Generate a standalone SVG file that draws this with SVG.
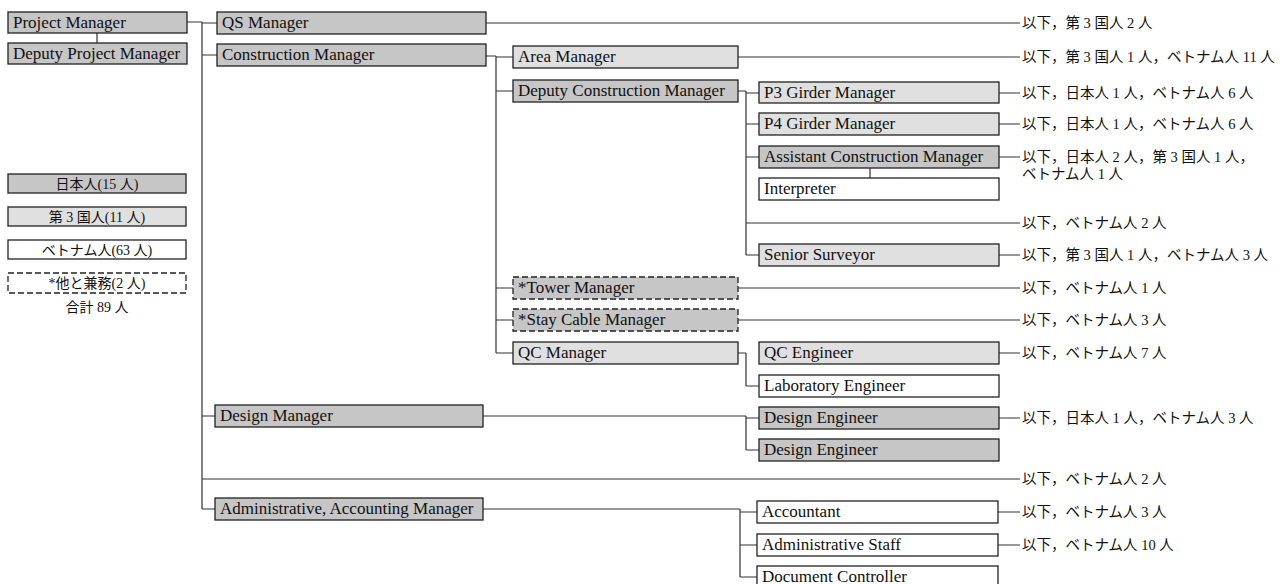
<svg xmlns="http://www.w3.org/2000/svg" width="1287" height="584" viewBox="0 0 1287 584">
<style>
.bg{fill:#fff}
.jp{fill:#c6c6c6;stroke:#222;stroke-width:1.3}
.tc{fill:#e0e0e0;stroke:#222;stroke-width:1.3}
.vn{fill:#fff;stroke:#222;stroke-width:1.3}
.ot{fill:#c6c6c6;stroke:#222;stroke-width:1.3;stroke-dasharray:6 3}
.otl{fill:#fff;stroke:#222;stroke-width:1.3;stroke-dasharray:6 3}
.t{font-family:"Liberation Serif","Times New Roman",serif;font-size:17px;fill:#111}
.j{font-family:"Liberation Serif","Noto Sans CJK JP",serif;font-size:14.5px;fill:#111}
.lg{font-family:"Liberation Serif","Noto Sans CJK JP",serif;font-size:14px;fill:#111;text-anchor:middle}
#connectors path{fill:none;stroke:#333;stroke-width:1.2}
</style>
<rect class="bg" x="0" y="0" width="1287" height="584"/>
<g id="connectors">
<path d="M187 22H202M97 33V43M202 22V509M202 23H217M202 55H217M202 416H215M202 479H1020M202 509H215"/>
<path d="M486 23H1020M486 56H496M496 56V353M496 57H513M496 91H513M496 288H513M496 320H513M496 353H513"/>
<path d="M738 57H1020M738 91H746M746 91V255M746 93H759M746 124H759M746 157H759M746 223H1020M746 255H759"/>
<path d="M999 93H1020M999 124H1020M999 157H1020M870 168V178M999 255H1020M738 288H1020M738 320H1020"/>
<path d="M738 353H746M746 353V386M746 386H759M999 353H1020M483 416H746M746 416V450M746 418H759M746 450H759M999 418H1020"/>
<path d="M483 509H740M740 509V577M740 512H757M740 545H757M740 577H757M998 512H1020M998 545H1020"/>
</g>
<g id="pm"><rect class="jp" x="8" y="12" width="179" height="21"/><text class="t" x="13" y="28">Project Manager</text></g>
<g id="dpm"><rect class="jp" x="8" y="43" width="179" height="21"/><text class="t" x="13" y="59">Deputy Project Manager</text></g>
<g id="qs"><rect class="jp" x="217" y="12" width="269" height="22"/><text class="t" x="222" y="28">QS Manager</text></g>
<g id="cm"><rect class="jp" x="217" y="44" width="269" height="22"/><text class="t" x="222" y="60">Construction Manager</text></g>
<g id="area"><rect class="tc" x="513" y="46" width="225" height="22"/><text class="t" x="518" y="62">Area Manager</text></g>
<g id="dcm"><rect class="jp" x="513" y="80" width="225" height="22"/><text class="t" x="518" y="96">Deputy Construction Manager</text></g>
<g id="p3"><rect class="tc" x="759" y="82" width="240" height="21"/><text class="t" x="764" y="98">P3 Girder Manager</text></g>
<g id="p4"><rect class="tc" x="759" y="113" width="240" height="22"/><text class="t" x="764" y="129">P4 Girder Manager</text></g>
<g id="acm"><rect class="jp" x="759" y="146" width="240" height="22"/><text class="t" x="764" y="162">Assistant Construction Manager</text></g>
<g id="interp"><rect class="vn" x="759" y="178" width="240" height="22"/><text class="t" x="764" y="194">Interpreter</text></g>
<g id="ss"><rect class="tc" x="759" y="244" width="240" height="22"/><text class="t" x="764" y="260">Senior Surveyor</text></g>
<g id="tower"><rect class="ot" x="513" y="277" width="225" height="22"/><text class="t" x="518" y="293">*Tower Manager</text></g>
<g id="stay"><rect class="ot" x="513" y="309" width="225" height="22"/><text class="t" x="518" y="325">*Stay Cable Manager</text></g>
<g id="qcm"><rect class="tc" x="513" y="342" width="225" height="22"/><text class="t" x="518" y="358">QC Manager</text></g>
<g id="qce"><rect class="tc" x="759" y="342" width="240" height="22"/><text class="t" x="764" y="358">QC Engineer</text></g>
<g id="lab"><rect class="vn" x="759" y="375" width="240" height="22"/><text class="t" x="764" y="391">Laboratory Engineer</text></g>
<g id="dm"><rect class="jp" x="215" y="405" width="268" height="22"/><text class="t" x="220" y="421">Design Manager</text></g>
<g id="de1"><rect class="jp" x="759" y="407" width="240" height="22"/><text class="t" x="764" y="423">Design Engineer</text></g>
<g id="de2"><rect class="jp" x="759" y="439" width="240" height="22"/><text class="t" x="764" y="455">Design Engineer</text></g>
<g id="aam"><rect class="jp" x="215" y="498" width="268" height="22"/><text class="t" x="220" y="514">Administrative, Accounting Manager</text></g>
<g id="acc"><rect class="vn" x="757" y="501" width="241" height="22"/><text class="t" x="762" y="517">Accountant</text></g>
<g id="adm"><rect class="vn" x="757" y="534" width="241" height="22"/><text class="t" x="762" y="550">Administrative Staff</text></g>
<g id="doc"><rect class="vn" x="757" y="566" width="241" height="22"/><text class="t" x="762" y="582">Document Controller</text></g>
<g id="notes">
<text class="j" x="1022" y="28">以下，第 3 国人 2 人</text>
<text class="j" x="1022" y="62">以下，第 3 国人 1 人，ベトナム人 11 人</text>
<text class="j" x="1022" y="98">以下，日本人 1 人，ベトナム人 6 人</text>
<text class="j" x="1022" y="129">以下，日本人 1 人，ベトナム人 6 人</text>
<text class="j" x="1022" y="162">以下，日本人 2 人，第 3 国人 1 人，</text>
<text class="j" x="1022" y="179">ベトナム人 1 人</text>
<text class="j" x="1022" y="228">以下，ベトナム人 2 人</text>
<text class="j" x="1022" y="260">以下，第 3 国人 1 人，ベトナム人 3 人</text>
<text class="j" x="1022" y="293">以下，ベトナム人 1 人</text>
<text class="j" x="1022" y="325">以下，ベトナム人 3 人</text>
<text class="j" x="1022" y="358">以下，ベトナム人 7 人</text>
<text class="j" x="1022" y="423">以下，日本人 1 人，ベトナム人 3 人</text>
<text class="j" x="1022" y="484">以下，ベトナム人 2 人</text>
<text class="j" x="1022" y="517">以下，ベトナム人 3 人</text>
<text class="j" x="1022" y="550">以下，ベトナム人 10 人</text>
</g>
<g id="legend">
<g id="lg-jp"><rect class="jp" x="8" y="174" width="178" height="19"/><text class="lg" x="97" y="189">日本人(15 人)</text></g>
<g id="lg-tc"><rect class="tc" x="8" y="207" width="178" height="19"/><text class="lg" x="97" y="222">第 3 国人(11 人)</text></g>
<g id="lg-vn"><rect class="vn" x="8" y="240" width="178" height="19"/><text class="lg" x="97" y="255">ベトナム人(63 人)</text></g>
<g id="lg-ot"><rect class="otl" x="8" y="273" width="178" height="20"/><text class="lg" x="97" y="288">*他と兼務(2 人)</text></g>
<text class="lg" x="97" y="312">合計 89 人</text>
</g>
</svg>
